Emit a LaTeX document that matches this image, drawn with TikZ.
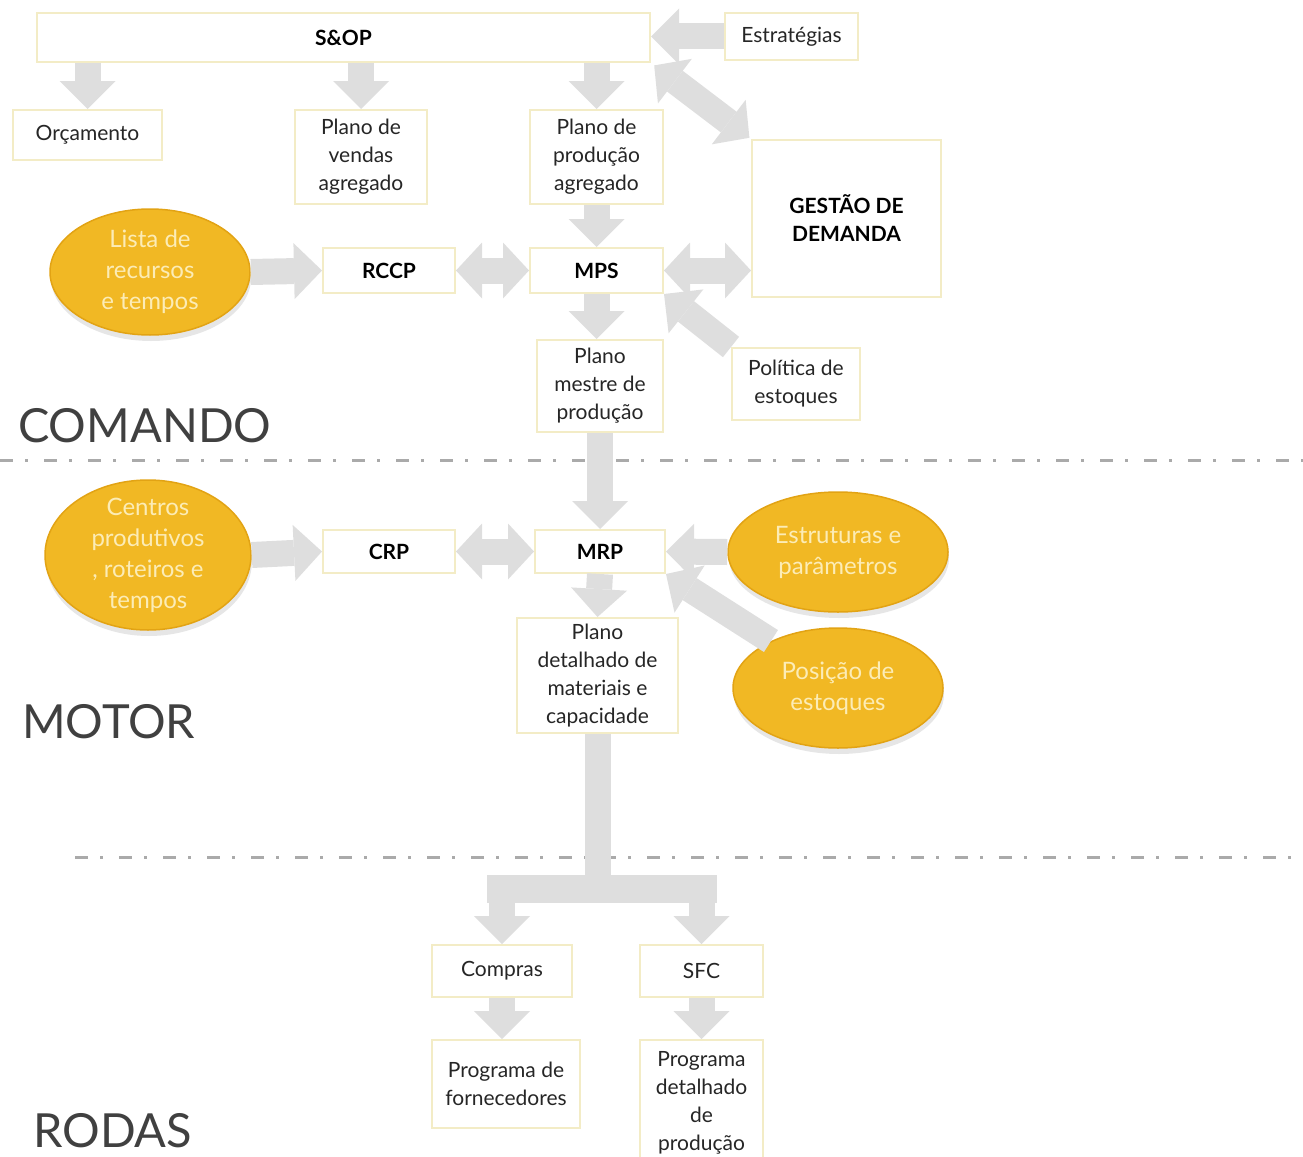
\documentclass[tikz,border=0pt]{standalone}
\usepackage{fontspec}
\setmainfont{Lato}
\usepackage{tikz}
\usetikzlibrary{arrows.meta,shapes,shadows,positioning}
\definecolor{goldellip}{RGB}{241,184,36}
\definecolor{golddark}{RGB}{226,163,20}
\definecolor{boxline}{RGB}{243,236,198}
\definecolor{arrowgray}{RGB}{222,222,222}
\definecolor{sepgray}{RGB}{170,170,170}
\definecolor{ellitext}{RGB}{252,236,182}

\begin{document}
\begin{tikzpicture}[x=1pt,y=-1pt]
          \useasboundingbox (0,0) rectangle (1303,1156);
          \tikzstyle{box}=[rectangle, draw=boxline, line width=2pt, fill=white, align=center, inner sep=0pt, text=black!85, font=\fontsize{21}{28}\selectfont]
          \tikzstyle{boldbox}=[box, text=black, font=\fontsize{21}{28}\selectfont\bfseries]
          \tikzstyle{blob}=[ellipse, fill=goldellip, draw=golddark, line width=1.5pt, inner sep=0pt, align=center, text=ellitext, font=\fontsize{24}{31}\selectfont, drop shadow={shadow xshift=1pt, shadow yshift=-6pt, opacity=.2}]
          \tikzstyle{level}=[anchor=base west, inner sep=0pt, text=black!75, font=\fontsize{47}{56}\selectfont]
          \tikzstyle{sep}=[draw=sepgray, line width=3pt, dash pattern=on 13pt off 12pt on 3pt off 16pt]
          \tikzstyle{stem}=[draw=arrowgray, line width=26pt]
          \tikzstyle{every edge}=[draw=arrowgray, line width=26pt, -{Triangle[length=28pt, width=56pt, line width=0pt]}]
          \tikzstyle{twoway}=[{Triangle[length=26pt, width=56pt, line width=0pt]}-{Triangle[length=26pt, width=56pt, line width=0pt]}]

          % separators
          \draw[sep] (0,460) -- (1303,460);
          \draw[sep] (75,857) -- (1303,857);

          % COMANDO
          \node[boldbox, minimum width=613pt, minimum height=49pt] (sop) at (343.5,37.5) {S\&OP};
          \node[box, minimum width=133pt, minimum height=47pt] (estr) at (791.5,36.5) {Estratégias};
          \node[box, minimum width=149pt, minimum height=50pt] (orc) at (87.5,135) {Orçamento};
          \node[box, minimum width=132pt, minimum height=94pt] (vendas) at (361,157) {Plano de\\vendas\\agregado};
          \node[box, minimum width=133pt, minimum height=94pt] (prodag) at (596.5,157) {Plano de\\produção\\agregado};
          \node[boldbox, minimum width=189pt, minimum height=157pt] (gestao) at (846.5,218.5) {GESTÃO DE\\DEMANDA};
          \node[blob, minimum width=200pt, minimum height=126pt] (lista) at (150,272) {Lista de\\recursos\\e tempos};
          \node[boldbox, minimum width=132pt, minimum height=45pt] (rccp) at (389,270.5) {RCCP};
          \node[boldbox, minimum width=133pt, minimum height=45pt] (mps) at (596.5,270.5) {MPS};
          \node[box, minimum width=126pt, minimum height=92pt] (mestre) at (600,386) {Plano\\mestre de\\produção};
          \node[box, minimum width=128pt, minimum height=72pt] (politica) at (796,384) {Política de\\estoques};
          \node[level] (comando) at (18,442) {COMANDO};

          % MOTOR
          \node[blob, minimum width=206pt, minimum height=150pt, inner ysep=-5pt] (centros) at (148,555) {Centros\\produtivos\\, roteiros e\\tempos};
          \node[boldbox, minimum width=132pt, minimum height=43pt] (crp) at (389,551.5) {CRP};
          \node[boldbox, minimum width=130pt, minimum height=43pt] (mrp) at (600,551.5) {MRP};
          \node[blob, minimum width=220pt, minimum height=120pt] (estrut) at (838,552) {Estruturas e\\parâmetros};
          \node[blob, minimum width=210pt, minimum height=120pt] (posicao) at (838,688) {Posição de\\estoques};
          \node[box, minimum width=161pt, minimum height=115pt] (detalhado) at (597.5,675.5) {Plano\\detalhado de\\materiais e\\capacidade};
          \node[level] (motor) at (22,738) {MOTOR};

          % RODAS
          \node[box, minimum width=140pt, minimum height=52pt] (compras) at (502,971) {Compras};
          \node[box, minimum width=123pt, minimum height=52pt] (sfc) at (701.5,971) {SFC};
          \node[box, minimum width=148pt, minimum height=88pt] (fornec) at (506,1084) {Programa de\\fornecedores};
          \node[box, minimum width=123pt, minimum height=126pt] (progdet) at (701.5,1103) {Programa\\detalhado\\de\\produção};
          \node[level] (rodas) at (33,1147) {RODAS};

          % arrows
          \path (estr.west) edge (sop.east |- estr.west);
          \path (orc.north |- sop.south) edge (orc.north);
          \path (vendas.north |- sop.south) edge (vendas.north);
          \path (prodag.north |- sop.south) edge (prodag.north);
          \path (sop.south east) edge[twoway, shorten <=4pt, shorten >=2pt] (gestao.north west);
          \path (lista.east) edge (rccp.west);
          \path (rccp.east) edge[twoway] (mps.west);
          \path (prodag.south) edge (mps.north);
          \path (gestao.west |- mps.east) edge[twoway] (mps.east);
          \path (mps.south) edge (mps.south |- mestre.north);
          \path (politica.north west) edge (mps.south east);
          \path (mestre.south) edge (mrp.north);
          \path (centros.east) edge (crp.west);
          \path (crp.east) edge[twoway] (mrp.west);
          \path (estrut.west) edge (mrp.east);
          \path (posicao.145) edge (mrp.south east);
          \path (mrp.south) edge (detalhado.north);

          % split to compras and SFC
          \coordinate (split) at (600,889);
          \coordinate (lsplit) at (compras.north |- split);
          \coordinate (rsplit) at (sfc.north |- split);
          \draw[stem] (detalhado.south) -- (detalhado.south |- split);
          \draw[stem, line width=28pt] ([xshift=-15pt]lsplit) -- ([xshift=15pt]rsplit);
          \path (lsplit) edge (compras.north);
          \path (rsplit) edge (sfc.north);
          \path (compras.south) edge (compras.south |- fornec.north);
          \path (sfc.south) edge (progdet.north);
\end{tikzpicture}
\end{document}
